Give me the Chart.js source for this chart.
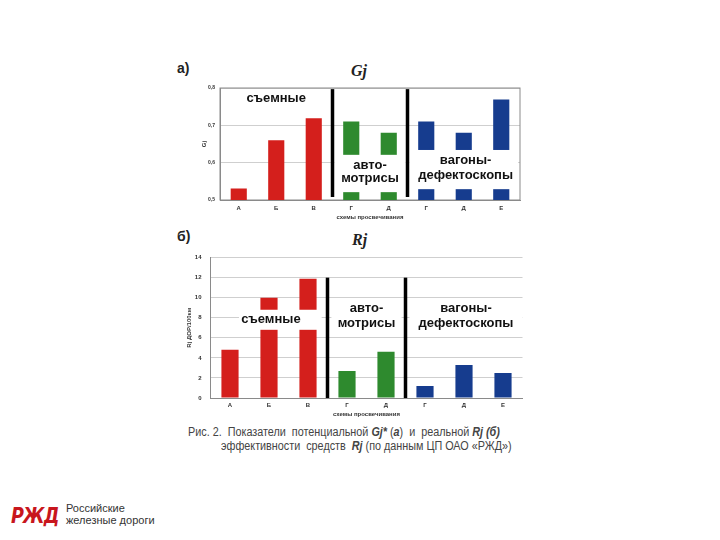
<!DOCTYPE html>
<html>
<head>
<meta charset="utf-8">
<script src="https://cdn.jsdelivr.net/npm/chart.js@4/dist/chart.umd.min.js"></script>
<style>
	body { margin: 0; background: #fff; }
	#page { position: relative; width: 720px; height: 540px; overflow: hidden; font-family: "Liberation Sans", Arial, sans-serif; }
	.abs { position: absolute; white-space: nowrap; }
	.panel { font-weight: bold; font-size: 14px; color: #222; }
	.ttl { font-family: "Liberation Serif", serif; font-style: italic; font-weight: bold; font-size: 16px; color: #222; }
	.cap { font-size: 12px; color: #444; transform: scaleX(0.9); transform-origin: left top; }
	.cap i { font-weight: bold; }
</style>
</head>
<body>
<div id="page">
	<div class="abs panel" style="left:177px; top:60px;">а)</div>
	<div class="abs ttl" style="left:351px; top:62px;">Gj</div>
	<div class="abs" style="left:198px; top:80px; width:332px; height:141px;"><canvas id="chartGj"></canvas></div>

	<div class="abs panel" style="left:177px; top:228px;">б)</div>
	<div class="abs ttl" style="left:352px; top:231px;">Rj</div>
	<div class="abs" style="left:183px; top:245px; width:347px; height:173px;"><canvas id="chartRj"></canvas></div>

	<div class="abs cap" style="left:188px; top:425px;">Рис. 2.&nbsp; Показатели&nbsp; потенциальной <i>Gj*</i> (<i>а</i>)&nbsp; и&nbsp; реальной <i>Rj (б)</i></div>
	<div class="abs cap" style="left:221px; top:439px;">эффективности&nbsp; средств&nbsp; <i>Rj</i> (по данным ЦП ОАО «РЖД»)</div>

	<div class="abs" style="left:11px; top:503px; font-family:'DejaVu Sans', sans-serif; font-style:italic; font-weight:bold; font-size:22px; color:#c8161d; letter-spacing:-1px; transform:scaleX(0.8); transform-origin:left top;">РЖД</div>
	<div class="abs" style="left:66px; top:502px; font-size:11px; line-height:12px; color:#333;">Российские<br>железные дороги</div>
</div>
<script>
const categories = ['А', 'Б', 'В', 'Г', 'Д', 'Г', 'Д', 'Е'];
const gjValues = [0.531, 0.66, 0.719, 0.71, 0.68, 0.71, 0.68, 0.769];
const rjValues = [4.8, 10.0, 11.9, 2.7, 4.6, 1.2, 3.3, 2.5];
const groupColors = ['#d41f1c', '#d41f1c', '#d41f1c', '#2e8a2e', '#2e8a2e', '#163c8e', '#163c8e', '#163c8e'];
const groupNames = [['съемные'], ['авто-', 'мотрисы'], ['вагоны-', 'дефектоскопы']];

const overlayPlugin = {
	id: 'overlay',
	afterDatasetsDraw(chart, args, opts) {
		const ctx = chart.ctx;
		const xs = chart.scales.x;
		const ys = chart.scales.y;
		const step = xs.getPixelForValue(1) - xs.getPixelForValue(0);
		const px = (i) => xs.getPixelForValue(0) + i * step;
		ctx.save();
		(opts.boxes || []).forEach((b) => {
			const x1 = px(b.x0);
			const x2 = px(b.x1);
			const y1 = ys.getPixelForValue(b.y1);
			const y2 = ys.getPixelForValue(b.y0);
			ctx.fillStyle = '#fff';
			ctx.fillRect(x1, y1, x2 - x1, y2 - y1);
		});
		(opts.dividers || []).forEach((d) => {
			ctx.strokeStyle = '#000';
			ctx.lineWidth = 3.5;
			ctx.beginPath();
			ctx.moveTo(px(d.x), ys.getPixelForValue(d.y0));
			ctx.lineTo(px(d.x), ys.getPixelForValue(d.y1));
			ctx.stroke();
		});
		ctx.fillStyle = '#111';
		ctx.font = 'bold 13px "Liberation Sans", Arial, sans-serif';
		ctx.textAlign = 'center';
		ctx.textBaseline = 'middle';
		(opts.labels || []).forEach((l) => {
			const y = ys.getPixelForValue(l.y);
			l.text.forEach((t, k) => ctx.fillText(t, px(l.x), y + k * l.dy));
		});
		ctx.restore();
	}
};

const framePlugin = {
	id: 'frame',
	beforeDatasetsDraw(chart, args, opts) {
		if (!opts.show) {
			return;
		}
		const a = chart.chartArea;
		const ctx = chart.ctx;
		ctx.save();
		ctx.strokeStyle = '#8a8a8a';
		ctx.lineWidth = 1;
		ctx.strokeRect(a.left, a.top, a.right - a.left, a.bottom - a.top);
		ctx.restore();
	}
};

function makeChart(id, values, cfg) {
	const ctx = document.getElementById(id).getContext('2d');
	return new Chart(ctx, {
		type: 'bar',
		data: {
			labels: categories,
			datasets: [{
				data: values,
				backgroundColor: groupColors,
				borderWidth: 0,
				barPercentage: cfg.barPct,
				categoryPercentage: 1
			}]
		},
		options: {
			responsive: true,
			maintainAspectRatio: false,
			animation: false,
			layout: { padding: { top: cfg.padTop, right: cfg.padRight, left: 0, bottom: 0 } },
			plugins: {
				legend: { display: false },
				tooltip: { enabled: false },
				overlay: cfg.overlay,
				frame: { show: cfg.frame }
			},
			scales: {
				x: {
					grid: { display: false, drawTicks: false },
					border: { display: true, color: '#8a8a8a' },
					ticks: { padding: cfg.xTickPad, color: '#333', font: { size: 6, weight: 'bold' } },
					title: { display: true, text: 'схемы просвечивания', padding: 0, color: '#333', font: { size: 6, weight: 'bold' } },
					afterFit: (scale) => { scale.height = cfg.xHeight; }
				},
				y: {
					min: cfg.min,
					max: cfg.max,
					grid: { color: '#cfcfcf', drawTicks: false },
					border: { display: true, color: '#8a8a8a' },
					ticks: {
						stepSize: cfg.step,
						padding: cfg.yTickPad,
						color: '#333',
						font: { size: cfg.yTickSize, weight: 'bold' },
						callback: cfg.fmt
					},
					title: { display: true, text: cfg.yTitle, padding: { top: 3, bottom: 0 }, color: '#333', font: { size: 6, weight: 'bold' } },
					afterFit: (scale) => { scale.width = cfg.yWidth; }
				}
			}
		},
		plugins: [framePlugin, overlayPlugin]
	});
}

document.addEventListener('DOMContentLoaded', () => {
	makeChart('chartGj', gjValues, {
		barPct: 0.43,
		padTop: 6,
		padRight: 10,
		xHeight: 21,
		xTickPad: 5,
		min: 0.5,
		max: 0.8,
		step: 0.1,
		yTickPad: 5,
		yTickSize: 5,
		yWidth: 22,
		yTitle: 'Gj',
		frame: true,
		fmt: (v) => v.toFixed(1).replace('.', ','),
		overlay: {
			boxes: [
				{ x0: 2.55, x1: 4.45, y0: 0.521, y1: 0.621 },
				{ x0: 4.55, x1: 7.45, y0: 0.529, y1: 0.634 }
			],
			dividers: [
				{ x: 2.5, y0: 0.508, y1: 0.797 },
				{ x: 4.5, y0: 0.508, y1: 0.797 }
			],
			labels: [
				{ text: groupNames[0], x: 1, y: 0.771, dy: 14 },
				{ text: groupNames[1], x: 3.5, y: 0.592, dy: 13 },
				{ text: groupNames[2], x: 6.05, y: 0.605, dy: 15 }
			]
		}
	});

	makeChart('chartRj', rjValues, {
		barPct: 0.44,
		padTop: 9,
		padRight: 7.5,
		xHeight: 20,
		xTickPad: 4,
		min: 0,
		max: 14,
		step: 2,
		yTickPad: 9,
		yTickSize: 6,
		yWidth: 27.5,
		yTitle: 'Rj ДОР/100км',
		frame: false,
		fmt: (v) => String(v),
		overlay: {
			boxes: [
				{ x0: 0.23, x1: 2.35, y0: 6.8, y1: 8.8 },
				{ x0: 2.6, x1: 4.4, y0: 6.6, y1: 9.6 },
				{ x0: 4.6, x1: 7.5, y0: 6.6, y1: 9.6 }
			],
			dividers: [
				{ x: 2.5, y0: 0, y1: 12 },
				{ x: 4.5, y0: 0, y1: 12 }
			],
			labels: [
				{ text: groupNames[0], x: 1.05, y: 7.8, dy: 15 },
				{ text: groupNames[1], x: 3.5, y: 8.95, dy: 15 },
				{ text: groupNames[2], x: 6.05, y: 8.95, dy: 15 }
			]
		}
	});
});
</script>
</body>
</html>
